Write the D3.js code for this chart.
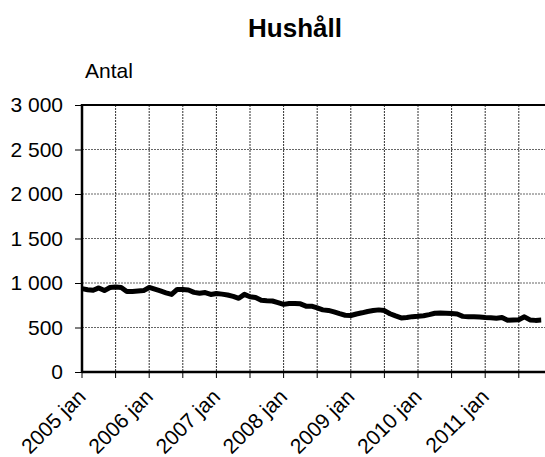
<!DOCTYPE html>
<html>
<head>
<meta charset="utf-8">
<script src="https://cdn.jsdelivr.net/npm/d3@7"></script>
<style>
  body { margin: 0; background: #fff; }
  svg { font-family: Arial, "Liberation Sans", sans-serif; }
</style>
</head>
<body>
<div id="chart"></div>
<script>
// data: monthly values, 2005 jan onwards
const years = ["2005", "2006", "2007", "2008", "2009", "2010", "2011"];
const months = ["jan","feb","mar","apr","maj","jun","jul","aug","sep","okt","nov","dec"];
const values = [
  937, 925, 918, 945, 915, 950, 955, 950, 905, 905, 910, 915,
  950, 930, 911, 890, 872, 928, 928, 922, 895, 885, 893, 871,
  882, 875, 865, 850, 828, 872, 845, 836, 805, 800, 798, 780,
  760, 770, 770, 766, 740, 740, 720, 698, 692, 675, 655, 638,
  635, 652, 665, 680, 690, 698, 690, 655, 630, 608, 612, 622,
  626, 632, 645, 660, 662, 660, 658, 652, 625, 622, 620, 617,
  612, 610, 605, 612, 582, 585, 588, 620, 585, 580, 583
];
const yTicks = [0, 500, 1000, 1500, 2000, 2500, 3000];

const labels = values.map((v, i) => years[Math.floor(i / 12)] + " " + months[i % 12]);
const data = values.map((v, i) => ({ i: i, label: labels[i], value: v }));

const width = 545;
const height = 457;
const margin = { top: 105, left: 82, bottom: 85 };
const monthW = 5.6;

const svg = d3.select("#chart")
  .append("svg")
  .attr("width", width)
  .attr("height", height);

// plot area runs a bit past the right edge of the picture
const x = d3.scaleLinear()
  .domain([0, 84])
  .range([margin.left, margin.left + 84 * monthW]);

const y = d3.scaleLinear()
  .domain([0, 3000])
  .range([height - margin.bottom, margin.top]);

const y0 = y(0);

// gridlines
svg.append("g")
  .selectAll("line")
  .data(yTicks.filter(d => d > 0 && d < 3000))
  .join("line")
  .attr("x1", margin.left)
  .attr("x2", width)
  .attr("y1", d => y(d))
  .attr("y2", d => y(d))
  .attr("stroke", "#666")
  .attr("stroke-width", 1)
  .attr("stroke-dasharray", "2,1");

const xTicks = d3.range(0, 84, 6);
svg.append("g")
  .selectAll("line")
  .data(xTicks.filter(d => d > 0))
  .join("line")
  .attr("x1", d => x(d))
  .attr("x2", d => x(d))
  .attr("y1", margin.top)
  .attr("y2", y0)
  .attr("stroke", "#333")
  .attr("stroke-width", 1)
  .attr("stroke-dasharray", "2,1");

// y axis
const yAxis = d3.axisLeft(y)
  .tickValues(yTicks)
  .tickSize(7)
  .tickPadding(12)
  .tickFormat(d => d3.format(",")(d).replace(",", " "));

svg.append("g")
  .attr("transform", `translate(${margin.left},0)`)
  .call(yAxis)
  .call(g => g.select(".domain").remove())
  .call(g => g.selectAll("line").attr("stroke", "#000"))
  .call(g => g.selectAll("text").attr("font-size", 21).attr("fill", "#000"));

// x axis ticks + labels
svg.append("g")
  .selectAll("line")
  .data(xTicks)
  .join("line")
  .attr("x1", d => x(d))
  .attr("x2", d => x(d))
  .attr("y1", y0)
  .attr("y2", y0 + 6)
  .attr("stroke", "#000");

svg.append("g")
  .selectAll("text")
  .data(xTicks.filter(d => d % 12 === 0))
  .join("text")
  .attr("transform", d => `translate(${x(d) + 5},${y0 + 26}) rotate(-45)`)
  .attr("text-anchor", "end")
  .attr("font-size", 21)
  .text(d => labels[d]);

// frame
svg.append("line")
  .attr("x1", margin.left).attr("x2", width)
  .attr("y1", margin.top).attr("y2", margin.top)
  .attr("stroke", "#000").attr("stroke-width", 2);
svg.append("line")
  .attr("x1", margin.left).attr("x2", width)
  .attr("y1", y0).attr("y2", y0)
  .attr("stroke", "#000").attr("stroke-width", 2.5);
svg.append("line")
  .attr("x1", margin.left).attr("x2", margin.left)
  .attr("y1", margin.top - 1).attr("y2", y0 + 1)
  .attr("stroke", "#000").attr("stroke-width", 2.5);

// line
const line = d3.line()
  .x(d => x(d.i))
  .y(d => y(d.value));

svg.append("path")
  .datum(data)
  .attr("fill", "none")
  .attr("stroke", "#000")
  .attr("stroke-width", 5)
  .attr("stroke-linejoin", "round")
  .attr("d", line);

// titles
svg.append("text")
  .attr("x", 295)
  .attr("y", 37)
  .attr("text-anchor", "middle")
  .attr("font-size", 26)
  .attr("font-weight", "bold")
  .text("Hushåll");

svg.append("text")
  .attr("x", 85)
  .attr("y", 78)
  .attr("font-size", 21)
  .text("Antal");
</script>
</body>
</html>
